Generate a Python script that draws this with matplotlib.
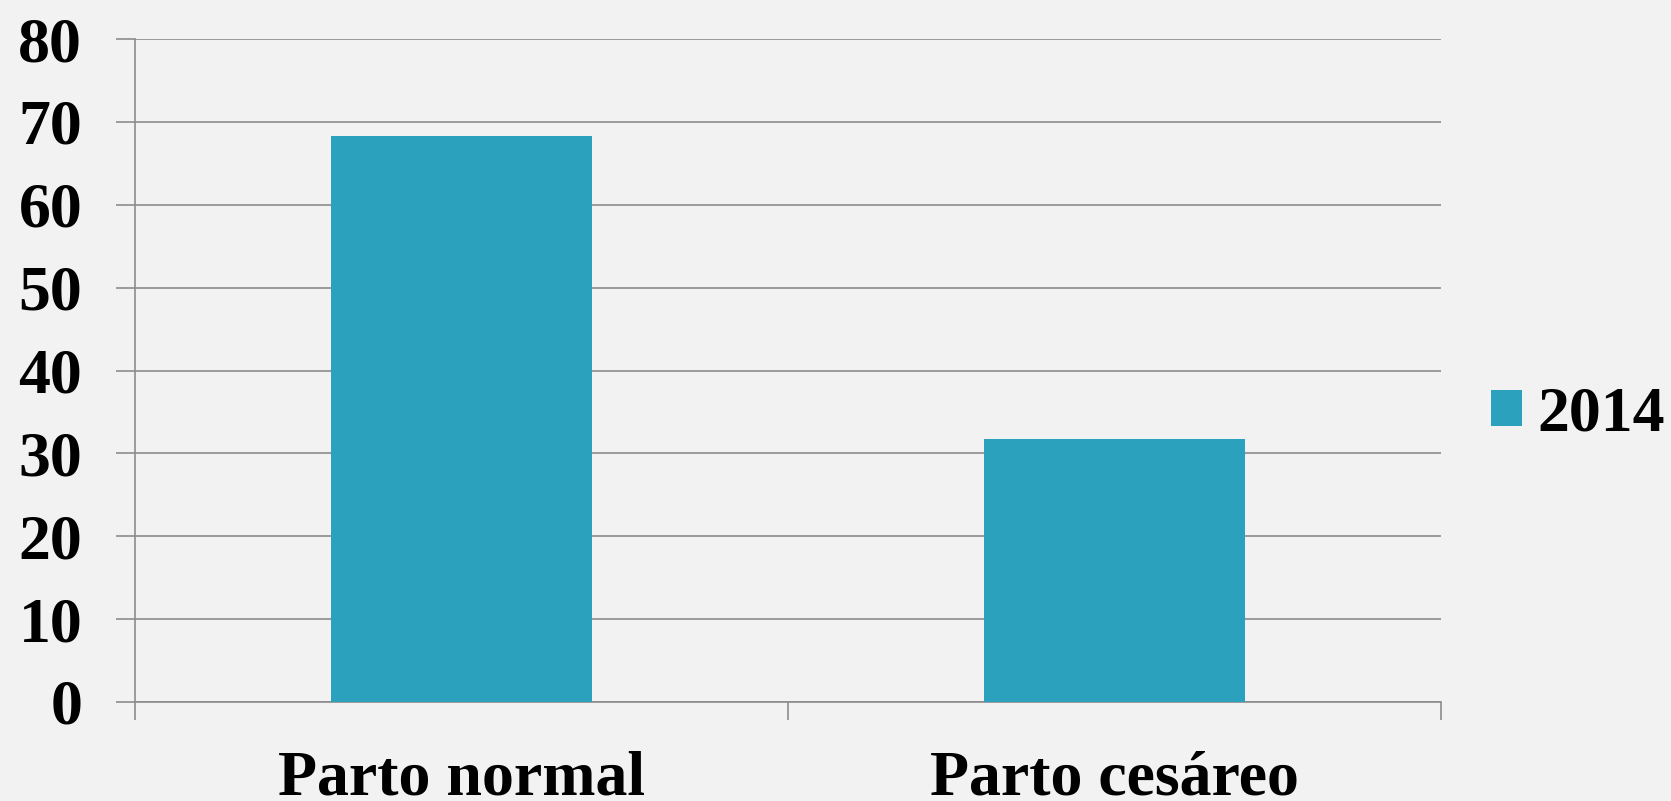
import matplotlib
matplotlib.use("Agg")
import matplotlib.pyplot as plt
from matplotlib.patches import Patch

categories = ["Parto normal", "Parto cesáreo"]
values_2014 = [68.3, 31.7]
yticks = [0, 10, 20, 30, 40, 50, 60, 70, 80]
series_label = "2014"

BG = "#F2F2F2"
BAR = "#2CA1BE"
GRID = "#8C8C8C"
FS = 46

plt.rcParams["font.family"] = ["Liberation Serif", "DejaVu Serif"]
plt.rcParams["font.weight"] = "bold"

fig = plt.figure(figsize=(16.71, 8.01), dpi=100, facecolor=BG)
ax = fig.add_axes([0.0808, 0.1236, 0.8624 - 0.0808, 0.9513 - 0.1236], facecolor=BG)

x = list(range(len(categories)))
ax.bar(x, values_2014, width=0.4, color=BAR, zorder=3, label=series_label)

ax.set_xlim(-0.5, len(categories) - 0.5)
ax.set_ylim(0, 80)
ax.set_yticks(yticks)
ax.set_yticklabels([str(t) for t in yticks])
ax.yaxis.grid(True, color=GRID, lw=1.2, zorder=0)

# category boundaries carry the tick marks, labels sit in between
ax.set_xticks([i - 0.5 for i in range(len(categories) + 1)])
ax.set_xticklabels([])
ax.set_xticks(x, minor=True)
ax.set_xticklabels(categories, minor=True)
ax.tick_params(axis="x", which="major", length=13, width=1.2, color=GRID, direction="out")
ax.tick_params(axis="x", which="minor", length=0, pad=35, labelsize=FS)
ax.tick_params(axis="y", length=14, width=1.2, color=GRID, pad=24, labelsize=FS)

for s in ("top", "right"):
    ax.spines[s].set_visible(False)
for s in ("left", "bottom"):
    ax.spines[s].set_color(GRID)
    ax.spines[s].set_linewidth(1.2)

handles = [Patch(facecolor=BAR, edgecolor="none", label=series_label)]
fig.legend(handles=handles, loc="center left", bbox_to_anchor=(0.877, 0.481),
           frameon=False, fontsize=FS, handlelength=0.48, handleheight=0.48,
           handletextpad=0.25, borderaxespad=0)

fig.savefig("out.png", dpi=100, facecolor=BG)
